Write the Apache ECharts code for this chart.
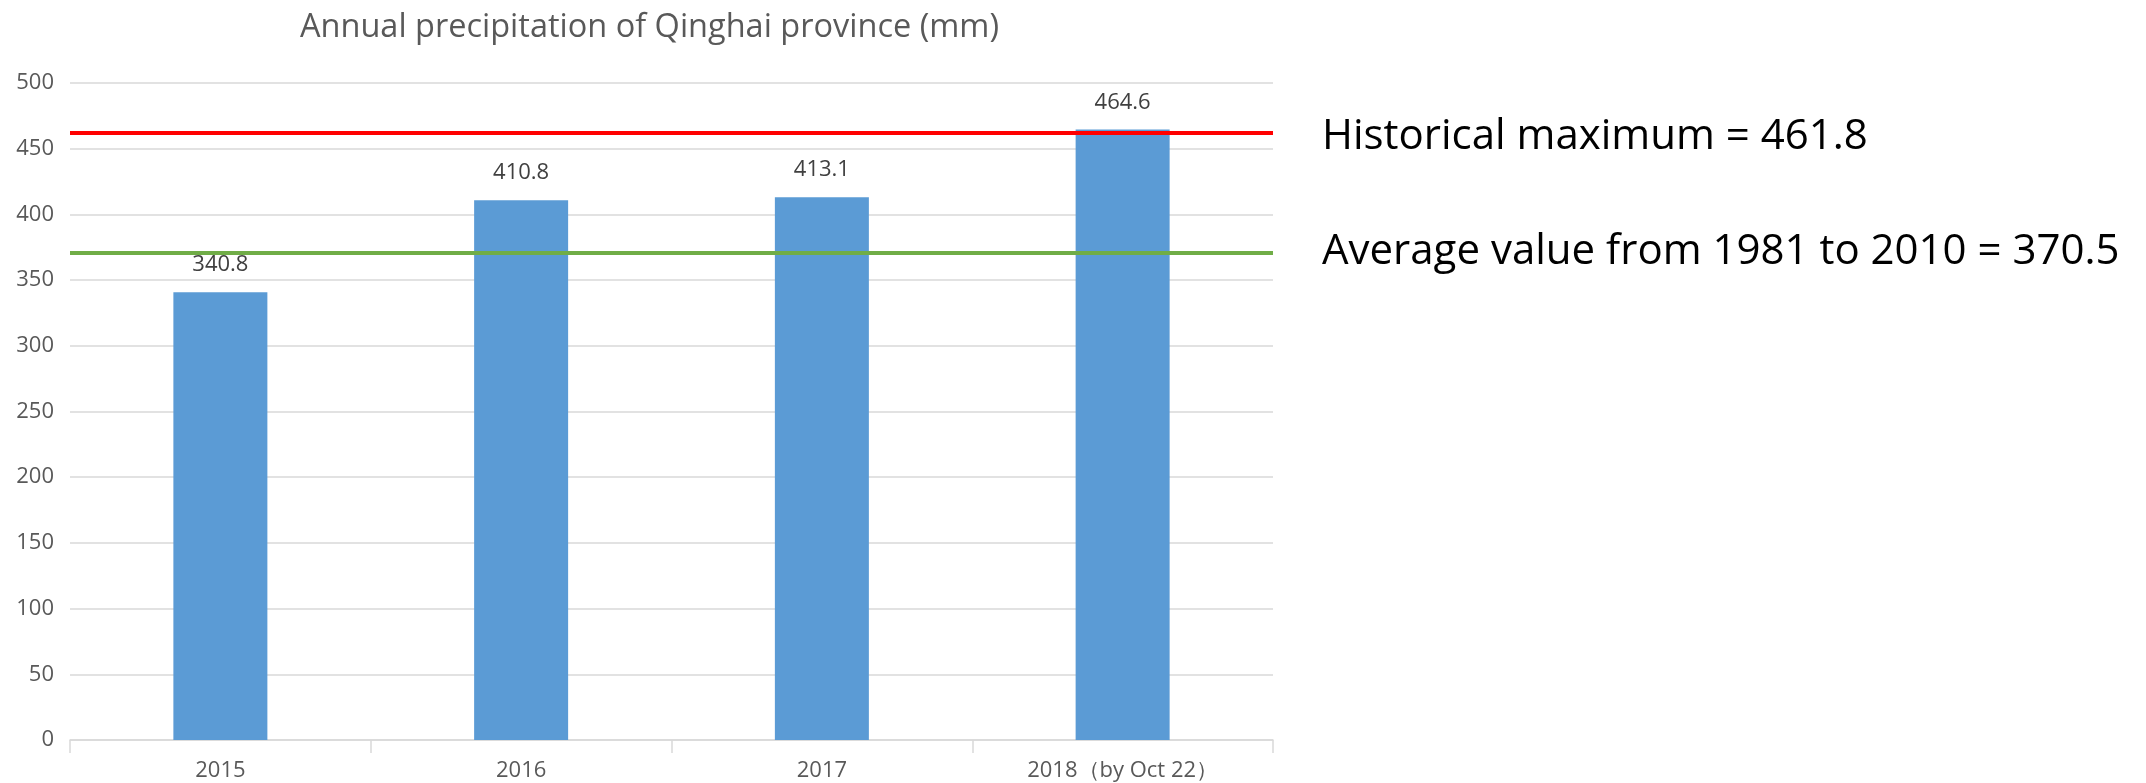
<!DOCTYPE html>
<html>
<head>
<meta charset="utf-8">
<script src="https://cdn.jsdelivr.net/npm/echarts@6/dist/echarts.min.js"></script>
<style>
html,body{margin:0;padding:0;background:#fff;}
#chart{width:2146px;height:783px;}
</style>
</head>
<body>
<div id="chart"></div>
<script>
var categories = ['2015', '2016', '2017', '2018\uFF08by Oct 22\uFF09'];
var precipitation = [340.8, 410.8, 413.1, 464.6];
var historicalMax = 461.8;
var averageValue = 370.5;
var titleText = 'Annual precipitation of Qinghai province (mm)';
var noteLines = ['Historical maximum = ' + historicalMax, 'Average value from 1981 to 2010 = ' + averageValue];

var chart = echarts.init(document.getElementById('chart'), null, {renderer: 'canvas'});
var option = {
  animation: false,
  backgroundColor: '#ffffff',
  grid: {left: 70, right: 873, top: 83, bottom: 43, containLabel: false},
  xAxis: {
    type: 'category',
    data: categories,
    boundaryGap: true,
    axisLine: {show: true, lineStyle: {color: '#d9d9d9', width: 1.5}},
    axisTick: {show: true, length: 13, alignWithLabel: false, lineStyle: {color: '#d9d9d9', width: 1.5}},
    axisLabel: {color: '#595959', fontSize: 22, margin: 20, fontFamily: 'Open Sans'}
  },
  yAxis: {
    type: 'value',
    min: 0, max: 500, interval: 50,
    axisLine: {show: false},
    axisTick: {show: false},
    splitLine: {lineStyle: {color: '#d9d9d9', width: 1.5}},
    axisLabel: {color: '#595959', fontSize: 22, margin: 16, fontFamily: 'Open Sans'}
  },
  series: [{
    type: 'bar',
    data: precipitation,
    barWidth: 94,
    itemStyle: {color: '#5b9bd5'},
    label: {show: true, position: 'top', distance: 16, color: '#404040', fontSize: 22, fontFamily: 'Open Sans'},
    markLine: {
      silent: true,
      symbol: ['none', 'none'],
      label: {show: false},
      data: [
        {yAxis: historicalMax, lineStyle: {color: '#ff0000', width: 4, type: 'solid'}},
        {yAxis: averageValue, lineStyle: {color: '#70ad47', width: 4, type: 'solid'}}
      ]
    }
  }],
  graphic: [
    {type: 'text', left: 300, top: 11, style: {text: titleText, fill: '#595959', font: '32.5px "Open Sans"'}},
    {type: 'text', x: 1322, y: 137, style: {text: noteLines[0], fill: '#000000', font: '42px "Open Sans"', verticalAlign: 'middle'}},
    {type: 'text', x: 1322, y: 252, style: {text: noteLines[1], fill: '#000000', font: '42px "Open Sans"', verticalAlign: 'middle'}}
  ]
};
chart.setOption(option);
</script>
</body>
</html>
